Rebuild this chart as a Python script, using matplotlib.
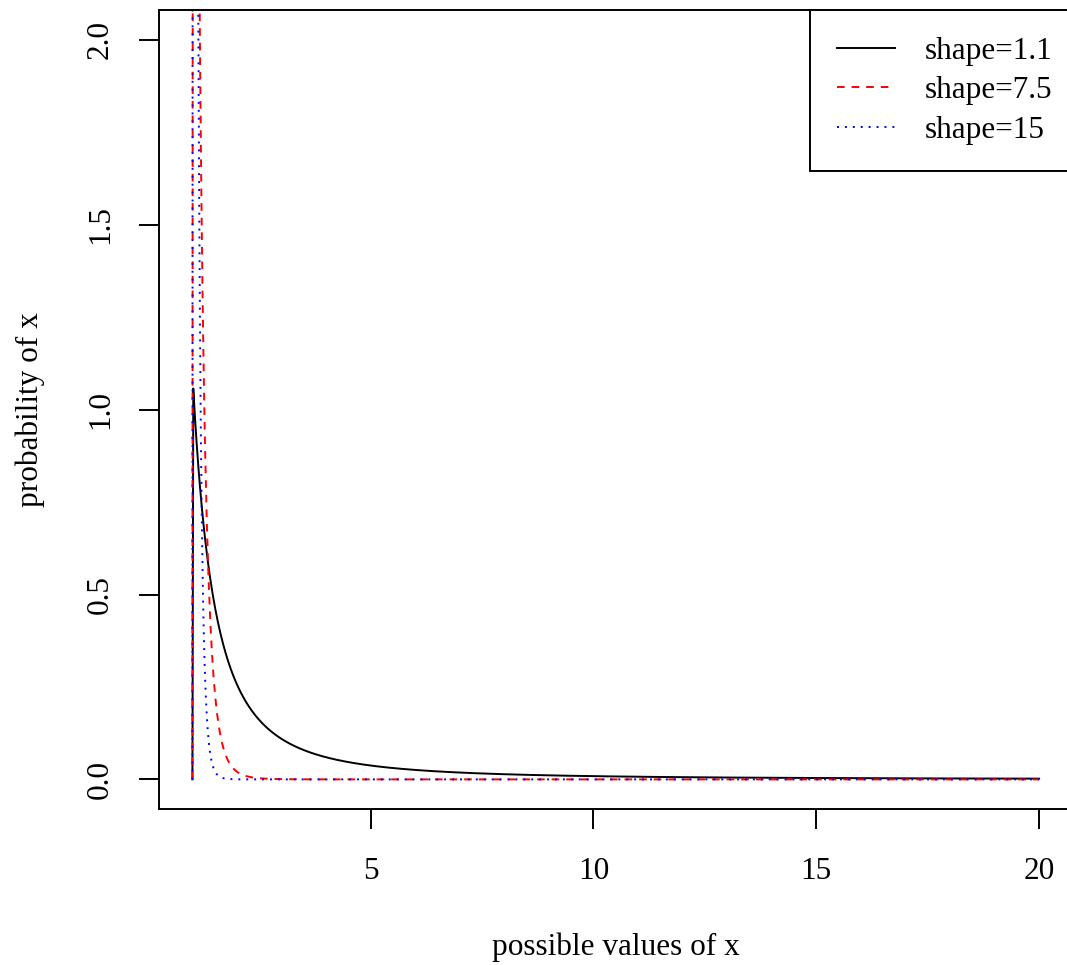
import numpy as np
import matplotlib.pyplot as plt

plt.rcParams["font.family"] = ["Liberation Serif", "DejaVu Serif"]
plt.rcParams["lines.scale_dashes"] = False

# Pareto (type I) curves, scale = 1
shapes = [1.1, 7.5, 15]
labels = ["shape=1.1", "shape=7.5", "shape=15"]
colors = ["black", "red", "blue"]
dashes = [None, (5.5, 5.0), (1.4, 4.3)]
x_from, x_to, n_pts = 1, 20, 1000
x_ticks = [5, 10, 15, 20]
y_ticks = [0.0, 0.5, 1.0, 1.5, 2.0]

x = np.linspace(x_from, x_to, n_pts)

fig = plt.figure(figsize=(10.67, 9.65), dpi=100)
ax = fig.add_axes([0.1486, 0.1617, 0.857, 0.8275])

for a, lab, c, d in zip(shapes, labels, colors, dashes):
    y = np.where(x > 1, a / x ** (a + 1), 0.0)
    ln, = ax.plot(x, y, color=c, lw=1.4, label=lab)
    if d is not None:
        ln.set_dashes(d)

ax.set_xlim(0.24, 20.76)
ax.set_ylim(-0.08, 2.08)
ax.set_xticks(x_ticks)
ax.set_xticklabels([str(t) for t in x_ticks])
ax.set_yticks(y_ticks)
ax.set_yticklabels(["%.1f" % t for t in y_ticks], rotation=90, va="center")
ax.tick_params(direction="out", length=14.4, width=1.4, labelsize=22.5)
ax.tick_params(axis="x", pad=20.5)
ax.tick_params(axis="y", pad=17)
for s in ax.spines.values():
    s.set_linewidth(1.4)

ax.set_xlabel("possible values of x", fontsize=22.5, labelpad=33.5)
ax.set_ylabel("probability of x", fontsize=22.5, labelpad=29.5)

leg = ax.legend(loc="upper right", bbox_to_anchor=(1.0066, 1.0), borderaxespad=0,
                fontsize=22.5, handlelength=1.86, handletextpad=0.96,
                labelspacing=0.33, borderpad=0.85, fancybox=False, framealpha=1)
leg.get_frame().set_edgecolor("black")
leg.get_frame().set_linewidth(1.4)

fig.savefig("out.png", dpi=100)
